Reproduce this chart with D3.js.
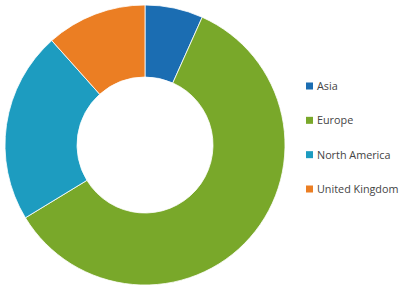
<!DOCTYPE html>
<html><head><meta charset="utf-8">
<script src="https://cdn.jsdelivr.net/npm/d3@7"></script>
<style>body{margin:0;background:#fff}</style>
</head><body>
<svg id="c" width="406" height="287"></svg>
<script>
const categories = ["Asia", "Europe", "North America", "United Kingdom"];
const values = [6.7, 59.6, 22.1, 11.6];
const colors = ["#1b6db2", "#79a82a", "#1d9cc0", "#eb7e23"];

const svg = d3.select("#c");
const cx = 145, cy = 145, rOuter = 140, rInner = 68;
const g = svg.append("g").attr("transform", `translate(${cx},${cy})`);
const pie = d3.pie().sort(null).value(d => d)(values);
const arc = d3.arc().innerRadius(rInner).outerRadius(rOuter);
g.selectAll("path").data(pie).join("path")
  .attr("d", arc)
  .attr("fill", (d, i) => colors[i])
  .attr("stroke", "#fff").attr("stroke-width", 0.8);

const ly = d3.scalePoint().domain(categories).range([86, 189]);
const lg = svg.append("g");
categories.forEach((c, i) => {
  lg.append("rect").attr("x", 306).attr("y", ly(c) - 3.5).attr("width", 7).attr("height", 7).attr("fill", colors[i]);
  lg.append("text").attr("x", 317).attr("y", ly(c) + 4)
    .attr("font-family", "Open Sans, sans-serif").attr("font-size", 10.8)
    .attr("fill", "#444").text(c);
});
</script>
</body></html>
